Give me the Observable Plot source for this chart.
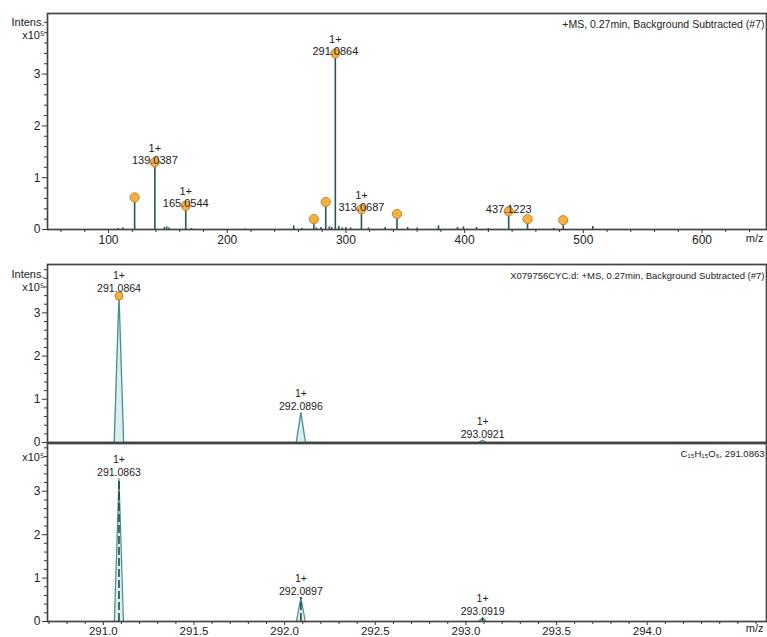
<!DOCTYPE html>
<html><head><meta charset="utf-8">
<script src="https://cdn.jsdelivr.net/npm/d3@7"></script>
<script src="https://cdn.jsdelivr.net/npm/@observablehq/plot@0.6"></script>
<style>
body{margin:0;background:#fff;}
#wrap{position:relative;width:767px;height:637px;overflow:hidden;background:#fff;}
#wrap svg{position:absolute;left:0;overflow:visible;}
</style></head><body><div id="wrap"></div>
<script>
// ---------- top panel: full MS spectrum (intensity x10^5) ----------
const fullMz  = [108,112,122,139.0387,147,149,151,165.0544,170,215,256,263,273,275,279,283,286,288,291.0864,294,297,300,304,313.0687,319,333,343,352,360,378,394,399,410,420,437.1223,453,475,483,508];
const fullInt = [0.02,0.03,0.62,1.30,0.04,0.05,0.03,0.46,0.02,0.01,0.07,0.02,0.20,0.03,0.04,0.53,0.05,0.04,3.40,0.06,0.03,0.04,0.03,0.39,0.03,0.04,0.30,0.04,0.03,0.07,0.04,0.05,0.04,0.02,0.35,0.20,0.02,0.18,0.06];
const markedMz  = [122,139.0387,165.0544,273,283,291.0864,313.0687,343,437.1223,453,483];
const markedInt = [0.62,1.30,0.46,0.20,0.53,3.40,0.39,0.30,0.35,0.20,0.18];
const fullLabelMz     = [139.0387,165.0544,291.0864,313.0687,437.1223];
const fullLabelInt    = [1.30,0.46,3.40,0.39,0.35];
const fullLabelText   = ["139.0387","165.0544","291.0864","313.0687","437.1223"];
const fullLabelCharge = ["1+","1+","1+","1+",""];
const fullTitle = "+MS, 0.27min, Background Subtracted (#7)";

// ---------- middle panel: measured isotope pattern ----------
const isoMz  = [290.692,291.060,291.0864,291.112,292.064,292.0896,292.115,293.068,293.0921,293.114,294.658];
const isoInt = [0,0,3.42,0,0,0.69,0,0,0.05,0,0];
const isoLabelMz     = [291.0864,292.0896,293.0921];
const isoLabelInt    = [3.42,0.69,0.05];
const isoLabelText   = ["291.0864","292.0896","293.0921"];
const isoLabelCharge = ["1+","1+","1+"];
const isoMarkMz = [291.0864];
const isoMarkInt = [3.39];
const isoTitle = "X079756CYC.d: +MS, 0.27min, Background Subtracted (#7)";

// ---------- bottom panel: simulated pattern ----------
const simMz  = [290.692,291.061,291.0863,291.111,292.065,292.0897,292.114,293.069,293.0919,293.113,294.658];
const simInt = [0,0,3.29,0,0,0.55,0,0,0.08,0,0];
const simStickMz  = [291.0863,292.0897,293.0919];
const simStickInt = [3.29,0.55,0.08];
const simLabelText   = ["291.0863","292.0897","293.0919"];
const simLabelCharge = ["1+","1+","1+"];
const simTitle = "C\u2081\u2085H\u2081\u2085O\u2086, 291.0863";

// ---------- ticks ----------
const fullTicks = [100,200,300,400,500,600];
const fullMinorTicks = [60,80,120,140,160,180,220,240,260,280,320,340,360,380,420,440,460,480,520,540,560,580,620,640];
const intTicks = [0,1,2,3];
const intMinorTicks = [0.2,0.4,0.6,0.8,1.2,1.4,1.6,1.8,2.2,2.4,2.6,2.8,3.2,3.4,3.6,3.8,4.0];
const isoTicks = [291.0,291.5,292.0,292.5,293.0,293.5,294.0];
const isoMinorTicks = [290.7,290.8,290.9,291.1,291.2,291.3,291.4,291.6,291.7,291.8,291.9,292.1,292.2,292.3,292.4,292.6,292.7,292.8,292.9,293.1,293.2,293.3,293.4,293.6,293.7,293.8,293.9,294.1,294.2,294.3,294.4,294.5,294.6];

const FONT = "'Liberation Sans', Arial, sans-serif";
const INK = "#222";
const FRAME = "#444";
const STICK = "#245858";
const ORANGE = "#f4b143", ORANGE_EDGE = "#c98426";
const PROFILE_LINE = "#3f918d", PROFILE_FILL = "#dcefed";

const zip = (a, b, extra = {}) => a.map((mz, i) => Object.assign({mz, int: b[i]}, Object.fromEntries(Object.entries(extra).map(([k, v]) => [k, v[i]]))));

const fullTable = zip(fullMz, fullInt);
const markedTable = zip(markedMz, markedInt);
const fullLabels = zip(fullLabelMz, fullLabelInt, {label: fullLabelText, charge: fullLabelCharge});
const isoTable = zip(isoMz, isoInt);
const isoLabels = zip(isoLabelMz, isoLabelInt, {label: isoLabelText, charge: isoLabelCharge});
const isoMarks = zip(isoMarkMz, isoMarkInt);
const simTable = zip(simMz, simInt);
const simSticks = zip(simStickMz, simStickInt, {label: simLabelText, charge: simLabelCharge});

const corner = (txt, opts) => Plot.text([txt], Object.assign({text: d => d, fill: INK, fontFamily: FONT}, opts));

function yAxes() {
  return [
    Plot.axisY(intMinorTicks, {tickSize: 3, text: null, stroke: "#333", label: null}),
    Plot.axisY(intTicks, {tickSize: 5, tickPadding: 2, fontSize: 12, fill: INK, stroke: "#333", tickFormat: d3.format("d"), label: null})
  ];
}

// ---------- top ----------
const topPlot = Plot.plot({
  width: 767, height: 250,
  marginLeft: 47, marginRight: 1, marginTop: 13, marginBottom: 21,
  style: {fontFamily: FONT, fontSize: "12px", background: "transparent", color: INK, overflow: "visible"},
  x: {domain: [48.6, 654.3]},
  y: {domain: [0, 4.17]},
  marks: [
    Plot.axisX(fullMinorTicks, {tickSize: 3, text: null, stroke: "#333", label: null}),
    Plot.axisX(fullTicks, {tickSize: 4, tickPadding: 2, fontSize: 12, fill: INK, stroke: "#333", label: null}),
    ...yAxes(),
    Plot.ruleX(fullTable, {x: "mz", y1: 0, y2: "int", stroke: STICK, strokeWidth: 1.6}),
    Plot.dot(markedTable, {x: "mz", y: "int", r: 4.6, fill: ORANGE, stroke: ORANGE_EDGE, strokeWidth: 1}),
    Plot.text(fullLabels, {x: "mz", y: "int", text: "label", dy: -2, fontSize: 11, fill: INK, fontFamily: FONT}),
    Plot.text(fullLabels, {x: "mz", y: "int", text: "charge", dy: -14, fontSize: 11, fill: INK, fontFamily: FONT}),
    Plot.frame({stroke: FRAME, strokeWidth: 1.7}),
    corner("Intens.", {frameAnchor: "top-left", textAnchor: "end", dx: -3, dy: 5, fontSize: 11}),
    corner("x10\u2075", {frameAnchor: "top-left", textAnchor: "end", dx: -3, dy: 18, fontSize: 11}),
    corner(fullTitle, {frameAnchor: "top-right", textAnchor: "end", dx: -2, dy: 7, fontSize: 10.5}),
    corner("m/z", {frameAnchor: "bottom-right", textAnchor: "end", dx: -3, dy: 12, fontSize: 11})
  ]
});
topPlot.style.top = "0px";

// ---------- middle ----------
const isoDomain = [290.692, 294.658];
const midPlot = Plot.plot({
  width: 767, height: 193,
  marginLeft: 47, marginRight: 1, marginTop: 14, marginBottom: 1,
  style: {fontFamily: FONT, fontSize: "12px", background: "transparent", color: INK, overflow: "visible"},
  x: {domain: isoDomain, axis: null},
  y: {domain: [0, 4.12]},
  marks: [
    ...yAxes(),
    Plot.areaY(isoTable, {x: "mz", y: "int", fill: PROFILE_FILL}),
    Plot.lineY(isoTable, {x: "mz", y: "int", stroke: PROFILE_LINE, strokeWidth: 1.3}),
    Plot.dot(isoMarks, {x: "mz", y: "int", r: 4, fill: ORANGE, stroke: ORANGE_EDGE, strokeWidth: 1}),
    Plot.text(isoLabels, {x: "mz", y: "int", text: "label", dy: -6, fontSize: 10.5, fill: INK, fontFamily: FONT}),
    Plot.text(isoLabels, {x: "mz", y: "int", text: "charge", dy: -19, fontSize: 10.5, fill: INK, fontFamily: FONT}),
    Plot.frame({stroke: FRAME, strokeWidth: 1.7}),
    corner("Intens.", {frameAnchor: "top-left", textAnchor: "end", dx: -3, dy: 6, fontSize: 11}),
    corner("x10\u2075", {frameAnchor: "top-left", textAnchor: "end", dx: -3, dy: 19, fontSize: 11}),
    corner(isoTitle, {frameAnchor: "top-right", textAnchor: "end", dx: -2, dy: 8, fontSize: 9.5})
  ]
});
midPlot.style.top = "250px";

// ---------- bottom ----------
const botPlot = Plot.plot({
  width: 767, height: 194,
  marginLeft: 47, marginRight: 1, marginTop: 0, marginBottom: 16,
  style: {fontFamily: FONT, fontSize: "12px", background: "transparent", color: INK, overflow: "visible"},
  x: {domain: isoDomain},
  y: {domain: [0, 4.10]},
  marks: [
    Plot.axisX(isoMinorTicks, {tickSize: 3, text: null, stroke: "#333", label: null}),
    Plot.axisX(isoTicks, {tickSize: 4, tickPadding: 1, fontSize: 11.5, fill: INK, stroke: "#333", tickFormat: d3.format(".1f"), label: null}),
    ...yAxes(),
    Plot.areaY(simTable, {x: "mz", y: "int", fill: PROFILE_FILL}),
    Plot.lineY(simTable, {x: "mz", y: "int", stroke: PROFILE_LINE, strokeWidth: 1.2}),
    Plot.ruleX(simSticks, {x: "mz", y1: 0, y2: "int", stroke: "#1d3c3c", strokeWidth: 1.5, strokeDasharray: "8,3"}),
    Plot.text(simSticks, {x: "mz", y: "int", text: "label", dy: -6, fontSize: 10.5, fill: INK, fontFamily: FONT}),
    Plot.text(simSticks, {x: "mz", y: "int", text: "charge", dy: -19, fontSize: 10.5, fill: INK, fontFamily: FONT}),
    Plot.frame({stroke: FRAME, strokeWidth: 1.7}),
    corner("x10\u2075", {frameAnchor: "top-left", textAnchor: "end", dx: -3, dy: 10, fontSize: 11}),
    corner(simTitle, {frameAnchor: "top-right", textAnchor: "end", dx: -2, dy: 7, fontSize: 9.5}),
    corner("m/z", {frameAnchor: "bottom-right", textAnchor: "end", dx: -3, dy: 10, fontSize: 11})
  ]
});
botPlot.style.top = "443px";

const wrap = document.getElementById("wrap");
wrap.append(topPlot, midPlot, botPlot);
</script>
</body></html>
